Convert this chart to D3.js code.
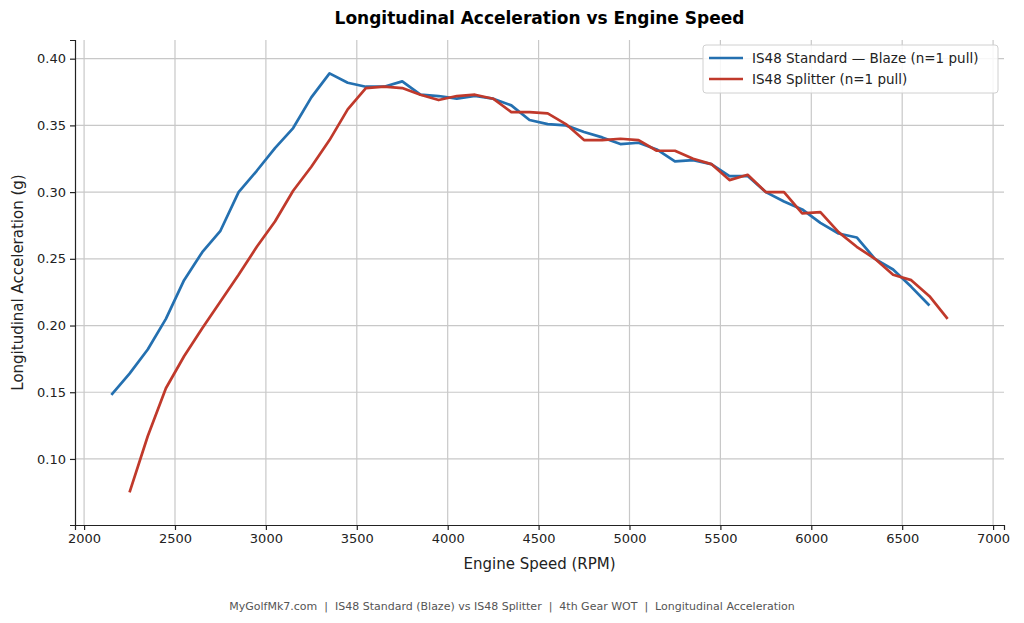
<!DOCTYPE html>
<meta charset="UTF-8">
<style>
  body { margin: 0; background: #fff; font-family: "DejaVu Sans", sans-serif; }
  .grid line { stroke: #c8c8c8; stroke-width: 1.2px; }
  .axis text { font-size: 13px; fill: #222; }
</style>
<body>
<script src="https://cdn.jsdelivr.net/npm/d3@7"></script>
<script>
var rpmBlue = [2150,2250,2350,2450,2550,2650,2750,2850,2950,3050,3150,3250,3350,3450,3550,3650,3750,3850,3950,4050,4150,4250,4350,4450,4550,4650,4750,4850,4950,5050,5150,5250,5350,5450,5550,5650,5750,5850,5950,6050,6150,6250,6350,6450,6550,6650];
var accBlue = [.148,.164,.182,.205,.234,.255,.271,.300,.316,.333,.348,.371,.389,.382,.379,.379,.383,.373,.372,.370,.372,.370,.365,.354,.351,.350,.345,.341,.336,.337,.332,.323,.324,.321,.312,.312,.300,.293,.287,.277,.269,.266,.250,.242,.229,.215];
var rpmRed = [2250,2350,2450,2550,2650,2750,2850,2950,3050,3150,3250,3350,3450,3550,3650,3750,3850,3950,4050,4150,4250,4350,4450,4550,4650,4750,4850,4950,5050,5150,5250,5350,5450,5550,5650,5750,5850,5950,6050,6150,6250,6350,6450,6550,6650,6750];
var accRed = [.075,.117,.153,.177,.198,.218,.238,.259,.278,.301,.319,.339,.362,.378,.379,.378,.373,.369,.372,.373,.370,.360,.360,.359,.351,.339,.339,.340,.339,.331,.331,.325,.321,.309,.313,.300,.300,.284,.285,.270,.259,.250,.238,.234,.222,.205];
var xTicks = [2000,2500,3000,3500,4000,4500,5000,5500,6000,6500,7000];
var yTicks = [0.10,0.15,0.20,0.25,0.30,0.35,0.40];
var seriesNames = ["IS48 Standard \u2014 Blaze (n=1 pull)", "IS48 Splitter (n=1 pull)"];
var colors = ["#2470b0", "#c0392b"];

var W = 1024, H = 623;
var m = {left: 75, right: 1004, top: 40, bottom: 525};
var svg = d3.select("body").append("svg").attr("width", W).attr("height", H);

var x = d3.scaleLinear().domain([1950, 7060]).range([m.left, m.right]);
var y = d3.scaleLinear().domain([0.0505, 0.414]).range([m.bottom, m.top]);

// grid
var g = svg.append("g").attr("class", "grid");
g.selectAll(".vx").data(xTicks).enter().append("line")
  .attr("x1", d => x(d)).attr("x2", d => x(d)).attr("y1", m.top).attr("y2", m.bottom);
g.selectAll(".hy").data(yTicks).enter().append("line")
  .attr("x1", m.left).attr("x2", m.right).attr("y1", d => y(d)).attr("y2", d => y(d));

// axes
svg.append("g").attr("class", "axis").attr("transform", "translate(0," + m.bottom + ")")
  .call(d3.axisBottom(x).tickValues(xTicks).tickFormat(d3.format("d")).tickSizeOuter(0).tickSize(5).tickPadding(4));
svg.append("g").attr("class", "axis").attr("transform", "translate(" + m.left + ",0)")
  .call(d3.axisLeft(y).tickValues(yTicks).tickFormat(d3.format(".2f")).tickSizeOuter(0).tickSize(5).tickPadding(4));
svg.selectAll(".axis path, .axis line").attr("stroke", "#222").attr("stroke-width", 1.2);
svg.selectAll(".axis text").attr("font-family", "DejaVu Sans");

// lines
var line = d3.line().x(d => x(d[0])).y(d => y(d[1]));
[[rpmBlue, accBlue], [rpmRed, accRed]].forEach(function(s, i) {
  svg.append("path").datum(d3.zip(s[0], s[1]))
    .attr("d", line).attr("fill", "none").attr("stroke", colors[i]).attr("stroke-width", 2.7)
    .attr("stroke-linejoin", "round");
});

// legend
var lg = svg.append("g").attr("transform", "translate(703,45)");
lg.append("rect").attr("width", 295).attr("height", 48).attr("rx", 3)
  .attr("fill", "#fff").attr("fill-opacity", 0.85).attr("stroke", "#d0d0d0");
seriesNames.forEach(function(n, i) {
  lg.append("line").attr("x1", 6).attr("x2", 40).attr("y1", 13 + i * 21).attr("y2", 13 + i * 21)
    .attr("stroke", colors[i]).attr("stroke-width", 2.7);
  lg.append("text").attr("x", 49).attr("y", 18 + i * 21).attr("font-size", 13.5).attr("fill", "#222").text(n);
});

// titles
svg.append("text").attr("x", (m.left + m.right) / 2).attr("y", 24).attr("text-anchor", "middle")
  .attr("font-size", 17).attr("font-weight", "bold").text("Longitudinal Acceleration vs Engine Speed");
svg.append("text").attr("x", (m.left + m.right) / 2).attr("y", 569).attr("text-anchor", "middle")
  .attr("font-size", 15).attr("fill", "#222").text("Engine Speed (RPM)");
svg.append("text").attr("transform", "translate(23," + ((m.top + m.bottom) / 2) + ") rotate(-90)")
  .attr("text-anchor", "middle").attr("font-size", 15).attr("fill", "#222").text("Longitudinal Acceleration (g)");
svg.append("text").attr("x", W / 2).attr("y", 610).attr("text-anchor", "middle")
  .attr("font-size", 11).attr("fill", "#555")
  .text("MyGolfMk7.com  |  IS48 Standard (Blaze) vs IS48 Splitter  |  4th Gear WOT  |  Longitudinal Acceleration")
  .style("white-space", "pre");
</script>
</body>
